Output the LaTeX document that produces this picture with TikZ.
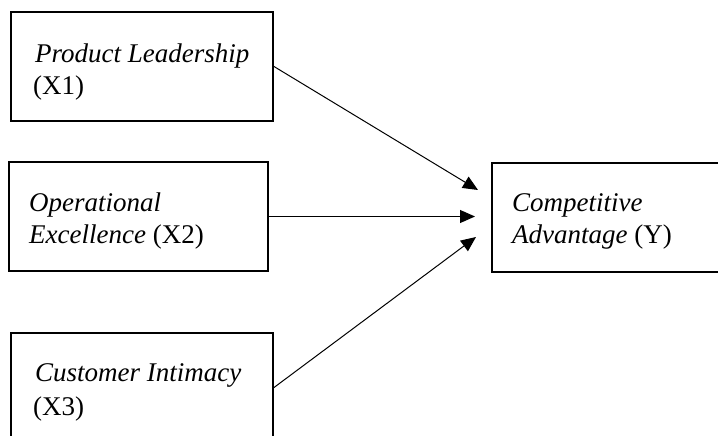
\documentclass[tikz,border=0pt]{standalone}
\usepackage{fontspec}
\setmainfont{Liberation Serif}
\usetikzlibrary{arrows.meta}
\begin{document}
\begin{tikzpicture}[x=1pt,y=-1pt,
  box/.style={draw=black,line width=2pt,fill=white,inner sep=0pt,minimum height=109pt},
  lbl/.style={anchor=base west,inner sep=0pt,font=\fontsize{27}{33}\selectfont},
  conn/.style={draw=black,line width=1pt,-{Triangle[length=15pt,width=13pt]}}]
\useasboundingbox (0,0) rectangle (718,436);
\fill[white] (0,0) rectangle (718,436);
% boxes
\node[box,minimum width=262pt] (x1) at (142,66.5) {};
\node[box,minimum width=259pt] (x2) at (138.5,216.5) {};
\node[box,minimum width=262pt] (x3) at (142,387.5) {};
\node[box,minimum width=234pt] (yy) at (609,217.5) {};
% labels
\node[lbl] (t1a) at (35,63) {\textit{Product Leadership}};
\node[lbl] (t1b) at (33,95) {(X1)};
\node[lbl] (t2a) at (29,211) {\textit{Operational}};
\node[lbl] (t2b) at (29,243) {\textit{Excellence} (X2)};
\node[lbl] (t3a) at (35,381) {\textit{Customer Intimacy}};
\node[lbl] (t3b) at (33,415) {(X3)};
\node[lbl] (tya) at (512,211) {\textit{Competitive}};
\node[lbl] (tyb) at (512,243) {\textit{Advantage} (Y)};
% arrow tips
\coordinate (e1) at (478,190);
\coordinate (e2) at (475,216.5);
\coordinate (e3) at (476,237);
\draw[conn] (x1.east) -- (e1);
\draw[conn] (x2.east) -- (e2);
\draw[conn] (x3.east) -- (e3);
\end{tikzpicture}
\end{document}
